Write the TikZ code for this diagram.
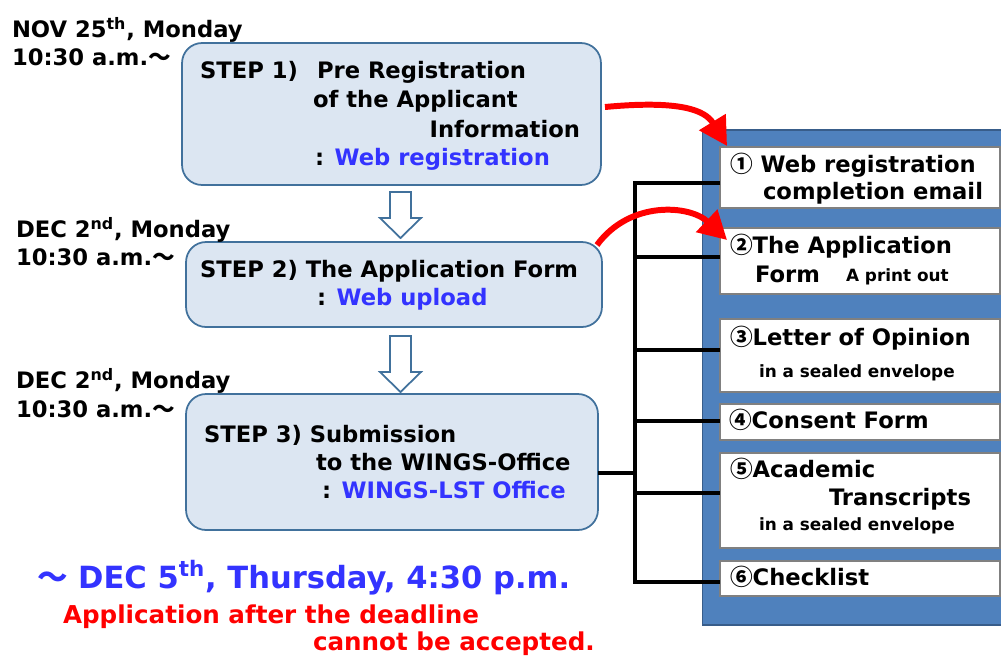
\documentclass[tikz,border=0pt]{standalone}
\usepackage{fontspec}
\setmainfont{DejaVu Sans}
\newfontfamily\cjk{Noto Sans CJK JP}
\usetikzlibrary{arrows.meta,calc}

\definecolor{stepfill}{RGB}{220,230,242}
\definecolor{stepline}{RGB}{65,113,156}
\definecolor{panelfill}{RGB}{79,129,189}
\definecolor{panelline}{RGB}{56,93,138}
\definecolor{itemline}{RGB}{128,128,128}
\definecolor{webblue}{RGB}{51,51,255}

% hollow down arrow: top centre, shaft length
\newcommand{\hollowdown}[2]{%
  \draw[hollow] (#1) ++(-10.5,0) -- ++(21,0) -- ++(0,#2) -- ++(10,0)
    -- ++(-20.5,20) -- ++(-20.5,-20) -- ++(10,0) -- cycle;}

\begin{document}
\begin{tikzpicture}[x=0.02cm,y=-0.02cm,
  every node/.style={inner sep=0pt, outer sep=0pt},
  stepbox/.style={draw=stepline, fill=stepfill, line width=1pt, rounded corners=0.4cm},
  itembox/.style={draw=itemline, fill=white, line width=0.8pt, minimum width=5.6cm},
  txt/.style={anchor=base west, font=\bfseries\fontsize{12.9}{15}\selectfont},
  small/.style={anchor=base west, font=\bfseries\fontsize{9.6}{11}\selectfont},
  hollow/.style={draw=stepline, fill=white, line width=1pt, line join=miter},
  redarrow/.style={draw=red, line width=3.4pt, -{Triangle[length=16pt,width=17pt]}},
  bus/.style={line width=2.2pt}]
\useasboundingbox (0,0) rectangle (1001,657);
\clip (0,0) rectangle (1001,657);

% steps
\node[stepbox, minimum width=8.38cm, minimum height=2.84cm] (s1) at (391.5,114) {};
\node[stepbox, minimum width=8.32cm, minimum height=1.7cm] (s2) at (394,284.5) {};
\node[stepbox, minimum width=8.24cm, minimum height=2.72cm] (s3) at (392,462) {};
\coordinate (a1) at (400.5,192);
\coordinate (a2) at (400.5,336);
\hollowdown{a1}{26}
\hollowdown{a2}{36}

% dates
\node[txt] (d1) at (12,37) {NOV 25\textsuperscript{th}, Monday};
\node[txt] (t1) at (12,65) {10:30 a.m.{\cjk ～}};
\node[txt] (d2) at (16,237) {DEC 2\textsuperscript{nd}, Monday};
\node[txt] (t2) at (16,265) {10:30 a.m.{\cjk ～}};
\node[txt] (d3) at (16,388) {DEC 2\textsuperscript{nd}, Monday};
\node[txt] (t3) at (16,417) {10:30 a.m.{\cjk ～}};

% step texts
\node[txt] (s1a) at (200,78) {STEP 1)};
\node[txt] (s1b) at (317,78) {Pre Registration};
\node[txt] (s1c) at (313,107) {of the Applicant};
\node[txt, anchor=base east] (s1d) at (580,137) {Information};
\node[txt] (s1e) at (315,165) {: \textcolor{webblue}{Web registration}};
\node[txt] (s2a) at (200,277) {STEP 2) The Application Form};
\node[txt] (s2b) at (317,305) {: \textcolor{webblue}{Web upload}};
\node[txt] (s3a) at (204,442) {STEP 3) Submission};
\node[txt] (s3b) at (316,470) {to the WINGS-Office};
\node[txt] (s3c) at (322,498) {: \textcolor{webblue}{WINGS-LST Office}};

% documents
\node[draw=panelline, fill=panelfill, line width=1pt, minimum width=6.3cm, minimum height=9.9cm] (panel) at (860,377.5) {};
\node[itembox, minimum height=1.22cm] (i1) at (860,177.5) {};
\node[itembox, minimum height=1.32cm] (i2) at (860,261) {};
\node[itembox, minimum height=1.46cm] (i3) at (860,355.5) {};
\node[itembox, minimum height=0.72cm] (i4) at (860,422) {};
\node[itembox, minimum height=1.9cm] (i5) at (860,500.5) {};
\node[itembox, minimum height=0.7cm] (i6) at (860,578.5) {};

\node[txt] (i1a) at (730,172) {{\cjk ①} Web registration};
\node[txt] (i1b) at (763,199) {completion email};
\node[txt] (i2a) at (730,253) {{\cjk ②}The Application};
\node[txt] (i2b) at (755,282) {Form};
\node[small] (i2c) at (846,281) {A print out};
\node[txt] (i3a) at (730,345) {{\cjk ③}Letter of Opinion};
\node[small] (i3b) at (759,377) {in a sealed envelope};
\node[txt] (i4a) at (729,428) {{\cjk ④}Consent Form};
\node[txt] (i5a) at (730,477) {{\cjk ⑤}Academic};
\node[txt] (i5b) at (829,505) {Transcripts};
\node[small] (i5c) at (759,530) {in a sealed envelope};
\node[txt] (i6a) at (730,585) {{\cjk ⑥}Checklist};

% bus to the documents
\coordinate (js) at (635,473);
\foreach \n/\y in {1/183,2/257,3/350,4/421,5/493,6/582}
  \coordinate (j\n) at (635,\y);
\draw[bus] (j1 -| i1.west) -- (j1) -- (j6) -- (j6 -| i6.west);
\foreach \n in {2,3,4,5}
  \draw[bus] (j\n) -- (j\n -| i\n.west);
\draw[bus] (js) -- (js -| s3.east);

% red arrows
\draw[redarrow] ($(s1.east)+(4,-7)$) .. controls (680,100) and (705,110) .. ($(i1.north west)+(7,-1)$);
\draw[redarrow] ($(s2.north east)+(-5,3)$) .. controls (630,200) and (690,205) .. ($(i2.north west)+(7,12)$);

% deadline
\node[txt, font=\bfseries\fontsize{17.4}{20}\selectfont, text=webblue] (dl) at (37,588) {{\cjk ～} DEC 5\textsuperscript{th}, Thursday, 4:30 p.m.};
\node[txt, font=\bfseries\fontsize{14}{17}\selectfont, text=red] (n1) at (63,623) {Application after the deadline};
\node[txt, font=\bfseries\fontsize{14}{17}\selectfont, text=red] (n2) at (313,650) {cannot be accepted.};
\end{tikzpicture}
\end{document}
